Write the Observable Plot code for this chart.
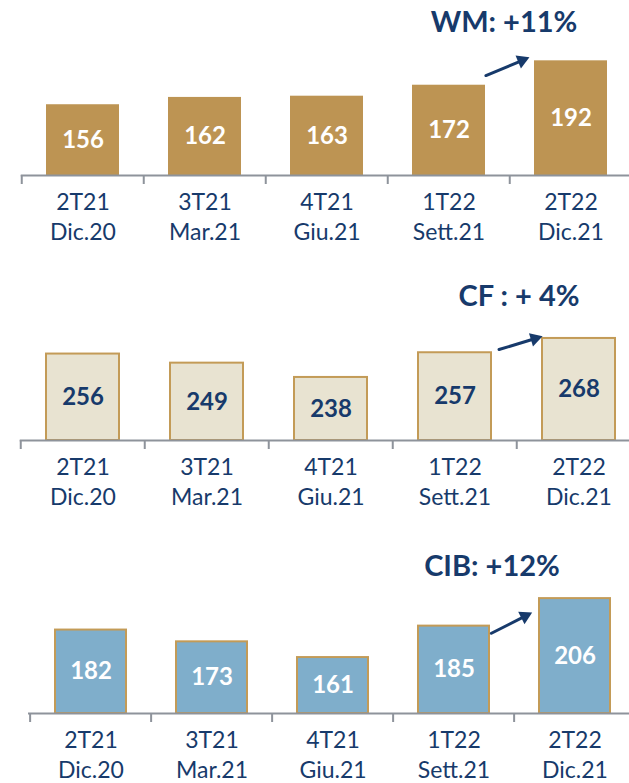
<!DOCTYPE html>
<html><head><meta charset="utf-8">
<script src="https://cdn.jsdelivr.net/npm/d3@7"></script>
<script src="https://cdn.jsdelivr.net/npm/@observablehq/plot@0.6"></script>
<style>
body{margin:0;background:#fff;}
#chart svg{display:block;overflow:visible;}
#chart{width:629px;height:783px;overflow:hidden;}
</style>
</head><body><div id="chart"></div>
<script>
const quarters = ["2T21","3T21","4T21","1T22","2T22"];
const months = ["Dic.20","Mar.21","Giu.21","Sett.21","Dic.21"];
const wmValues = [156,162,163,172,192];
const cfValues = [256,249,238,257,268];
const cibValues = [182,173,161,185,206];
const titles = ["WM: +11%","CF : + 4%","CIB: +12%"];

const NAVY = "#173a6b";
const GRAY = "#8e939b";
const GOLD = "#c39b57";
const FONT = "Lato, 'Open Sans', sans-serif";

const panels = [
  {values: wmValues, title: titles[0], fill: "#bd9453", stroke: "none", label: "#ffffff",
   height: 260, marginBottom: 85, k: 1.22, ymin: 98, range: [20.75, 633.25], pad: 0.4,
   titleDx: -67, titleY: 22, a1: -4.7, a2: 17, inS: 40, inE: 45},
  {values: cfValues, title: titles[1], fill: "#e8e3d1", stroke: GOLD, label: NAVY,
   height: 260, marginBottom: 80, k: 1.3, ymin: 189.5, range: [19.75, 642.25], pad: 0.41,
   titleDx: -60, titleY: 36, a1: -7.7, a2: 10, inS: 46, inE: 38},
  {values: cibValues, title: titles[2], fill: "#7faecb", stroke: GOLD, label: "#ffffff",
   height: 263, marginBottom: 70, k: 1.31, ymin: 118.3, range: [28, 636.75], pad: 0.41,
   titleDx: -83, titleY: 46, a1: -20, a2: 6, inS: 42, inE: 48}
];

const chart = document.getElementById("chart");
for (const p of panels) {
  const data = quarters.map((q, i) => ({q, m: months[i], v: p.values[i]}));
  const baseline = p.height - p.marginBottom;
  const ymax = p.ymin + baseline / p.k;
  const n = quarters.length;
  const step = (p.range[1] - p.range[0]) / n;
  const last = data[n - 1], prev = data[n - 2];
  // pixel geometry of the growth arrow (for the filled head)
  const px = i => p.range[0] + step * (i + 0.5);
  const py = v => baseline - (v - p.ymin) * p.k;
  const X1 = px(n - 2), Y1 = py(prev.v + p.a1), X2 = px(n - 1), Y2 = py(last.v + p.a2);
  const L = Math.hypot(X2 - X1, Y2 - Y1);
  const ux = (X2 - X1) / L, uy = (Y2 - Y1) / L;
  const r = 5.2;
  const tipDist = 2 * Math.sqrt((Math.PI * r * r) / (3 * Math.sqrt(3)));
  const rot = Math.atan2(ux, -uy) * 180 / Math.PI;

  const svg = Plot.plot({
    width: 629,
    height: p.height,
    marginTop: 0,
    marginLeft: p.range[0],
    marginRight: 0,
    marginBottom: p.marginBottom,
    style: {fontFamily: FONT, background: "transparent"},
    x: {type: "band", domain: quarters, range: p.range, paddingInner: p.pad, paddingOuter: p.pad / 2, label: null},
    y: {domain: [p.ymin, ymax], range: [baseline, 0], axis: null},
    marks: [
      Plot.barY(data, {x: "q", y1: () => p.ymin, y2: "v", fill: p.fill, stroke: p.stroke, strokeWidth: 2}),
      Plot.text(data, {x: "q", y: d => (p.ymin + d.v) / 2, text: d => String(d.v), fill: p.label,
        fontSize: 24, fontWeight: "bold", fontFamily: FONT}),
      Plot.ruleY([p.ymin], {stroke: GRAY, strokeWidth: 2}),
      Plot.axisX({tickSize: 9, tickFormat: () => "", dx: -step / 2, stroke: GRAY, strokeWidth: 2, label: null}),
      Plot.axisX({tickSize: 0, tickPadding: 14, tickFormat: q => q + "\n" + months[quarters.indexOf(q)],
        fontSize: 23, lineHeight: 1.28, fill: NAVY, label: null, fontFamily: FONT}),
      Plot.text([p.title], {x: () => last.q, frameAnchor: "top", dx: p.titleDx, dy: p.titleY,
        lineAnchor: "middle", text: d => d, fill: NAVY, fontSize: 29, fontWeight: "bold", fontFamily: FONT}),
      Plot.arrow([{a: prev, b: last}], {x1: d => d.a.q, x2: d => d.b.q,
        y1: d => d.a.v + p.a1, y2: d => d.b.v + p.a2, insetStart: p.inS, insetEnd: p.inE + tipDist + 2,
        stroke: NAVY, strokeWidth: 3, headLength: 0}),
      Plot.dot([last], {x: "q", y: d => d.v + p.a2, symbol: "triangle", r,
        dx: -(p.inE + tipDist) * ux, dy: -(p.inE + tipDist) * uy, rotate: rot,
        fill: NAVY, stroke: "none"})
    ]
  });
  chart.appendChild(svg);
}
</script>
</body></html>
